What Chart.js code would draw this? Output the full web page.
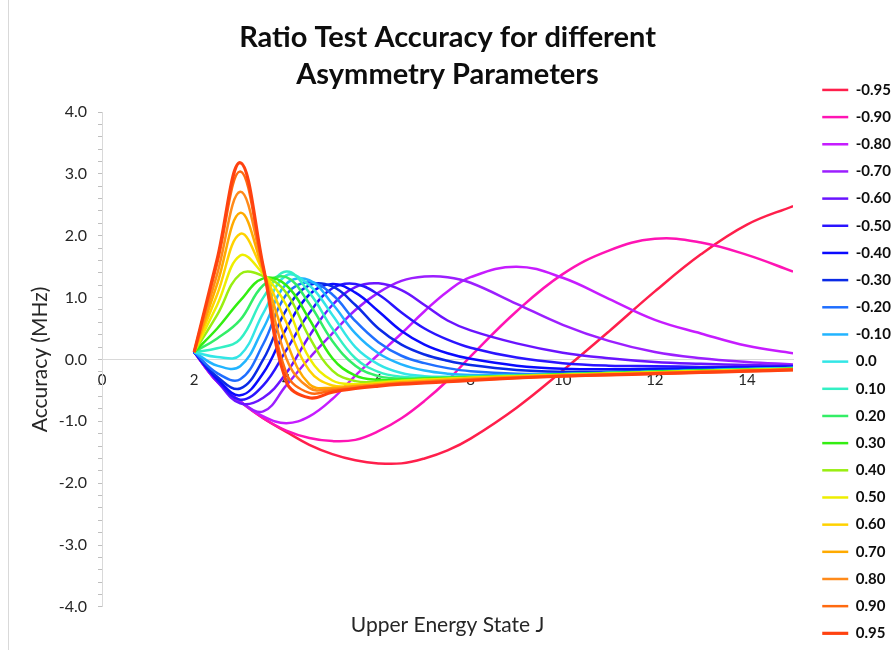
<!DOCTYPE html>
<html>
<head>
<meta charset="utf-8">
<script src="https://cdn.jsdelivr.net/npm/chart.js@4.4.1/dist/chart.umd.min.js"></script>
<style>
  html, body { margin: 0; padding: 0; background: #ffffff; }
  #wrap { width: 896px; height: 650px; }
</style>
</head>
<body>
<div id="wrap"><canvas id="chart" width="896" height="650"></canvas></div>
<script>
// upper energy state J (x positions of the samples)
const jValues = [2, 2.5, 3, 3.5, 4, 4.5, 5, 5.5, 6, 6.5, 7, 7.5, 8, 9, 10, 11, 12, 13, 14, 15];

// asymmetry parameters (legend order)
const asymLabels = ["-0.95", "-0.90", "-0.80", "-0.70", "-0.60", "-0.50", "-0.40", "-0.30", "-0.20", "-0.10",
  "0.0", "0.10", "0.20", "0.30", "0.40", "0.50", "0.60", "0.70", "0.80", "0.90", "0.95"];

// accuracy (MHz) per series
const accM95 = [0.12, -0.36, -0.68, -0.95, -1.17, -1.38, -1.53, -1.63, -1.68, -1.68, -1.60, -1.47, -1.28, -0.78, -0.18, 0.45, 1.10, 1.70, 2.18, 2.48];
const accM90 = [0.12, -0.36, -0.68, -0.95, -1.15, -1.27, -1.32, -1.30, -1.16, -0.95, -0.67, -0.34, 0.05, 0.78, 1.38, 1.76, 1.95, 1.89, 1.69, 1.42];
const accM80 = [0.12, -0.36, -0.68, -0.92, -1.03, -0.92, -0.64, -0.26, 0.08, 0.42, 0.78, 1.10, 1.33, 1.50, 1.32, 0.98, 0.64, 0.42, 0.22, 0.10];
const accM70 = [0.12, -0.36, -0.68, -0.84, -0.42, 0.02, 0.42, 0.80, 1.08, 1.27, 1.34, 1.33, 1.24, 0.90, 0.56, 0.30, 0.12, 0.02, -0.04, -0.08];
const accM60 = [0.12, -0.35, -0.71, -0.62, -0.22, 0.38, 0.88, 1.17, 1.23, 1.12, 0.88, 0.63, 0.47, 0.26, 0.11, 0.02, -0.04, -0.07, -0.09, -0.10];
const accM50 = [0.12, -0.33, -0.65, -0.42, 0.15, 0.75, 1.15, 1.22, 1.05, 0.76, 0.50, 0.32, 0.19, 0.03, -0.06, -0.10, -0.11, -0.12, -0.12, -0.11];
const accM40 = [0.12, -0.31, -0.58, -0.22, 0.50, 1.05, 1.22, 1.08, 0.78, 0.46, 0.24, 0.10, 0.01, -0.10, -0.15, -0.16, -0.15, -0.14, -0.13, -0.12];
const accM30 = [0.12, -0.28, -0.47, 0.00, 0.80, 1.20, 1.18, 0.88, 0.50, 0.24, 0.08, -0.02, -0.09, -0.17, -0.20, -0.20, -0.18, -0.16, -0.15, -0.13];
const accM20 = [0.12, -0.22, -0.32, 0.25, 1.05, 1.25, 1.05, 0.62, 0.28, 0.06, -0.06, -0.14, -0.19, -0.23, -0.23, -0.21, -0.19, -0.17, -0.15, -0.14];
const accM10 = [0.12, -0.10, -0.11, 0.50, 1.22, 1.28, 0.90, 0.42, 0.10, -0.08, -0.18, -0.23, -0.25, -0.25, -0.24, -0.22, -0.20, -0.18, -0.16, -0.14];
const accZ00 = [0.12, 0.04, 0.07, 0.75, 1.36, 1.20, 0.72, 0.20, -0.08, -0.22, -0.27, -0.28, -0.28, -0.26, -0.24, -0.22, -0.20, -0.18, -0.16, -0.14];
const accP10 = [0.12, 0.18, 0.33, 1.00, 1.42, 1.08, 0.50, 0.02, -0.20, -0.28, -0.29, -0.29, -0.28, -0.26, -0.24, -0.22, -0.20, -0.18, -0.16, -0.15];
const accP20 = [0.12, 0.34, 0.64, 1.20, 1.33, 0.90, 0.30, -0.10, -0.27, -0.31, -0.30, -0.29, -0.28, -0.26, -0.24, -0.22, -0.20, -0.18, -0.16, -0.15];
const accP30 = [0.12, 0.50, 0.95, 1.31, 1.20, 0.65, 0.02, -0.26, -0.33, -0.33, -0.31, -0.30, -0.29, -0.27, -0.24, -0.22, -0.20, -0.18, -0.17, -0.15];
const accP40 = [0.12, 0.72, 1.38, 1.35, 1.08, 0.36, -0.18, -0.35, -0.36, -0.34, -0.32, -0.31, -0.29, -0.27, -0.25, -0.23, -0.21, -0.19, -0.17, -0.15];
const accP50 = [0.12, 0.88, 1.68, 1.38, 0.88, 0.02, -0.34, -0.40, -0.38, -0.35, -0.33, -0.31, -0.30, -0.27, -0.25, -0.23, -0.21, -0.19, -0.17, -0.16];
const accP60 = [0.12, 1.05, 2.03, 1.41, 0.60, -0.18, -0.42, -0.42, -0.39, -0.36, -0.34, -0.32, -0.30, -0.28, -0.25, -0.23, -0.21, -0.19, -0.18, -0.16];
const accP70 = [0.12, 1.22, 2.37, 1.43, 0.30, -0.40, -0.46, -0.43, -0.40, -0.37, -0.35, -0.33, -0.31, -0.28, -0.26, -0.24, -0.22, -0.20, -0.18, -0.16];
const accP80 = [0.12, 1.38, 2.71, 1.46, 0.02, -0.46, -0.48, -0.44, -0.41, -0.38, -0.36, -0.34, -0.32, -0.29, -0.26, -0.24, -0.22, -0.20, -0.18, -0.16];
const accP90 = [0.12, 1.55, 3.04, 1.48, -0.22, -0.54, -0.50, -0.46, -0.42, -0.39, -0.37, -0.35, -0.33, -0.30, -0.27, -0.25, -0.23, -0.21, -0.19, -0.17];
const accP95 = [0.12, 1.62, 3.18, 1.50, -0.36, -0.62, -0.53, -0.47, -0.43, -0.40, -0.38, -0.36, -0.34, -0.30, -0.27, -0.25, -0.23, -0.21, -0.19, -0.17];

const seriesValues = [accM95, accM90, accM80, accM70, accM60, accM50, accM40, accM30, accM20, accM10,
  accZ00, accP10, accP20, accP30, accP40, accP50, accP60, accP70, accP80, accP90, accP95];

const seriesColors = ["#ff1f4b", "#ff14b4", "#c61cff", "#9c1fff", "#6a14ff", "#2a14ff", "#0a0aff", "#0a2ae6", "#1f6eff", "#22b4ff",
  "#33e6e6", "#33f0c4", "#33ee66", "#33ee11", "#99ee11", "#eeee00", "#ffd200", "#ffaa00", "#ff8a1a", "#ff6a10", "#ff4210"];

const xTicks = [0, 2, 4, 6, 8, 10, 12, 14];

/* frame line on the left, like the sheet border */
const framePlugin = {
  id: "frameLine",
  beforeDraw(chart) {
    const ctx = chart.ctx;
    ctx.save();
    ctx.strokeStyle = "#d9d9d9";
    ctx.lineWidth = 1;
    ctx.beginPath();
    ctx.moveTo(8.5, 0);
    ctx.lineTo(8.5, chart.height);
    ctx.stroke();
    ctx.restore();
  }
};

const datasets = seriesValues.map((vals, i) => ({
  label: asymLabels[i],
  data: vals.map((v, k) => ({ x: jValues[k], y: v })),
  borderColor: seriesColors[i],
  backgroundColor: seriesColors[i],
  borderWidth: i === seriesValues.length - 1 ? 3.2 : 2.5,
  pointRadius: 0,
  tension: 0.4,
  fill: false,
  order: seriesValues.length - 1 - i
}));

new Chart(document.getElementById("chart"), {
  type: "line",
  data: { datasets },
  plugins: [framePlugin],
  options: {
    responsive: false,
    animation: false,
    devicePixelRatio: 1,
    layout: { padding: { left: 0, right: -5, top: 0, bottom: -3 } },
    plugins: {
      title: {
        display: true,
        text: ["Ratio Test Accuracy for different", "Asymmetry Parameters"],
        fullSize: false,
        color: "#0d0d0d",
        font: { family: "Lato", size: 29, weight: "bold", lineHeight: 1.276 },
        padding: { top: 19.5, bottom: 18.5 }
      },
      subtitle: {
        display: true,
        position: "bottom",
        text: "Upper Energy State J",
        fullSize: false,
        color: "#262626",
        font: { family: "Lato", size: 21, lineHeight: 1.2 },
        padding: { top: 5.5, bottom: 15.4 }
      },
      legend: {
        position: "right",
        align: "end",
        labels: {
          usePointStyle: true,
          pointStyle: "line",
          pointStyleWidth: 26,
          padding: 12.17,
          color: "#0d0d0d",
          font: { family: "Lato", size: 15, weight: "bold" },
          sort: (a, b) => a.datasetIndex - b.datasetIndex
        }
      },
      tooltip: { enabled: false }
    },
    scales: {
      x: {
        type: "linear",
        position: { y: 0 },
        min: 0,
        max: 15,
        afterBuildTicks: (s) => { s.ticks = xTicks.map(v => ({ value: v })); },
        grid: { display: true, drawOnChartArea: false, drawTicks: false },
        border: { display: true, color: "#d9d9d9", width: 1 },
        ticks: {
          padding: 11.5,
          color: "#262626",
          font: { family: "Lato", size: 15 },
          maxRotation: 0
        }
      },
      y: {
        type: "linear",
        position: "left",
        min: -4,
        max: 4,
        afterFit: (s) => { s.width = 102; },
        grid: { display: true, drawOnChartArea: false, drawTicks: true, tickLength: 4, color: "#bfbfbf" },
        border: { display: true, color: "#d9d9d9", width: 1 },
        ticks: {
          stepSize: 0.2,
          autoSkip: false,
          padding: 11,
          color: "#262626",
          font: { family: "Lato", size: 16 },
          callback: (v) => Math.abs(v - Math.round(v)) < 1e-6 ? Number(v).toFixed(1) : ""
        },
        title: {
          display: true,
          text: "Accuracy (MHz)",
          color: "#262626",
          font: { family: "Lato", size: 21, lineHeight: 1.2 },
          padding: { top: 27.5, bottom: 0 }
        }
      },
      yRight: {
        type: "linear",
        position: "right",
        display: true,
        afterFit: (s) => { s.width = 17; },
        grid: { display: false },
        border: { display: false },
        ticks: { display: false }
      }
    }
  }
});
</script>
</body>
</html>
